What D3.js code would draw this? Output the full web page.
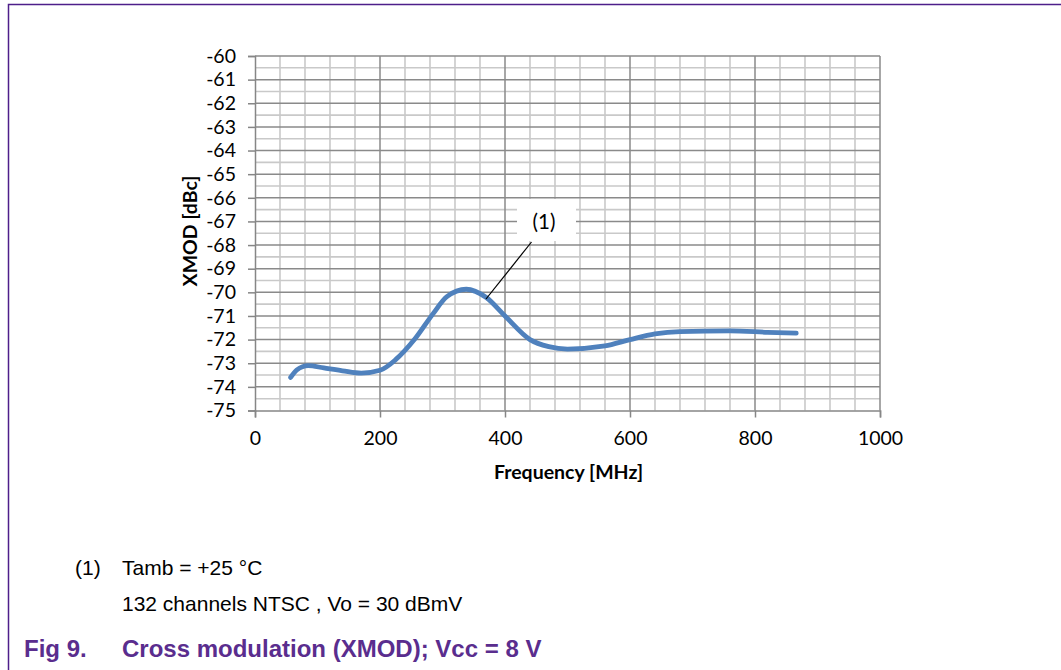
<!DOCTYPE html>
<html>
<head>
<meta charset="utf-8">
<script src="https://cdn.jsdelivr.net/npm/d3@7"></script>
<style>
  html, body { margin: 0; padding: 0; background: #fff; }
  svg { display: block; }
</style>
</head>
<body>
<svg id="chart" width="1061" height="670"></svg>
<script>
// XMOD measurement at Tamb = +25 °C
const frequency = [57, 67, 85, 110, 140, 170, 200, 225, 255, 285, 307, 338, 370, 400, 440, 470, 500, 560, 600, 640, 680, 760, 820, 866];
const xmod = [-73.6, -73.28, -73.1, -73.2, -73.32, -73.42, -73.3, -72.85, -72.0, -70.9, -70.18, -69.87, -70.22, -71.0, -72.0, -72.3, -72.4, -72.27, -72.0, -71.76, -71.66, -71.63, -71.69, -71.73];

const xTicks = [0, 200, 400, 600, 800, 1000];
const yTicks = d3.range(-75, -59, 1);

const xTitle = "Frequency [MHz]";
const yTitle = "XMOD [dBc]";
const calloutText = "(1)";
const noteLines = [["(1)", "Tamb = +25 °C"], ["", "132 channels NTSC , Vo = 30 dBmV"]];
const figNumber = "Fig 9.";
const figTitle = "Cross modulation (XMOD); Vcc = 8 V";

const svg = d3.select("#chart");
const chartFont = "Lato, 'Open Sans', sans-serif";
const noteFont = "'Liberation Sans', Arial, sans-serif";
const purple = "#5a2d8e";
const chartSize = "19.5px";

// page frame
svg.append("path")
  .attr("d", "M8.5,670 V4.5 H1061")
  .attr("fill", "none")
  .attr("stroke", "#4e1f8a")
  .attr("stroke-width", 1.5);

const x = d3.scaleLinear().domain([0, 1000]).range([255, 880]);
const y = d3.scaleLinear().domain([-75, -60]).range([410.5, 56]);

const grid = svg.append("g");
// minor grid
grid.selectAll("line.vminor")
  .data(d3.range(40, 1000, 40).filter(v => v % 200 !== 0))
  .join("line")
  .attr("x1", d => x(d)).attr("x2", d => x(d))
  .attr("y1", y(-60)).attr("y2", y(-75))
  .attr("stroke", "#c9c9c9").attr("stroke-width", 1.6);
grid.selectAll("line.hminor")
  .data(d3.range(-74.5, -60, 1))
  .join("line")
  .attr("x1", x(0)).attr("x2", x(1000))
  .attr("y1", d => y(d)).attr("y2", d => y(d))
  .attr("stroke", "#c9c9c9").attr("stroke-width", 1.6);
// major grid
grid.selectAll("line.vmajor")
  .data(xTicks.slice(1))
  .join("line")
  .attr("x1", d => x(d)).attr("x2", d => x(d))
  .attr("y1", y(-60)).attr("y2", y(-75))
  .attr("stroke", "#8a8a8a").attr("stroke-width", 1.5);
grid.selectAll("line.hmajor")
  .data(yTicks.slice(1))
  .join("line")
  .attr("x1", x(0)).attr("x2", x(1000))
  .attr("y1", d => y(d)).attr("y2", d => y(d))
  .attr("stroke", "#8a8a8a").attr("stroke-width", 1.5);

// axes
const yAxis = svg.append("g")
  .attr("transform", `translate(${x(0)},0)`)
  .call(d3.axisLeft(y).tickValues(yTicks).tickSize(7).tickPadding(12).tickFormat(d => d));
const xAxis = svg.append("g")
  .attr("transform", `translate(0,${y(-75)})`)
  .call(d3.axisBottom(x).tickValues(xTicks).tickSize(7).tickPadding(14).tickFormat(d => d));
[yAxis, xAxis].forEach(a => {
  a.select(".domain").attr("stroke", "#868686").attr("stroke-width", 1.5);
  a.selectAll(".tick line").attr("stroke", "#868686").attr("stroke-width", 1.5);
  a.selectAll(".tick text")
    .attr("fill", "#000")
    .style("font-family", chartFont)
    .style("font-size", chartSize);
});

// axis titles
svg.append("text")
  .attr("x", x(500) + 1).attr("y", 479)
  .attr("text-anchor", "middle")
  .style("font-family", chartFont).style("font-size", chartSize).style("font-weight", "bold")
  .text(xTitle);
svg.append("text")
  .attr("transform", `translate(197,231) rotate(-90)`)
  .attr("text-anchor", "middle")
  .style("font-family", chartFont).style("font-size", chartSize).style("font-weight", "bold")
  .text(yTitle);

// measured curve
const line = d3.line()
  .x((d, i) => x(frequency[i]))
  .y(d => y(d))
  .curve(d3.curveMonotoneX);
svg.append("path")
  .datum(xmod)
  .attr("d", line)
  .attr("fill", "none")
  .attr("stroke", "#4f81bd")
  .attr("stroke-width", 4.8)
  .attr("stroke-linecap", "round")
  .attr("stroke-linejoin", "round");

// callout
svg.append("line")
  .attr("x1", 531.5).attr("y1", 242)
  .attr("x2", 486).attr("y2", 299)
  .attr("stroke", "#000").attr("stroke-width", 1.2);
svg.append("rect")
  .attr("x", 517).attr("y", 199).attr("width", 59).attr("height", 42)
  .attr("fill", "#fff");
svg.append("text")
  .attr("x", 544).attr("y", 229)
  .attr("text-anchor", "middle")
  .style("font-family", chartFont).style("font-size", "20.5px")
  .text(calloutText);

// notes
const notes = svg.append("g").style("font-family", noteFont).style("font-size", "21px").attr("fill", "#000");
noteLines.forEach((pair, i) => {
  const yy = 575 + i * 36;
  if (pair[0]) notes.append("text").attr("x", 75).attr("y", yy).text(pair[0]);
  notes.append("text").attr("x", 122).attr("y", yy).text(pair[1]);
});

// figure caption
const cap = svg.append("g")
  .style("font-family", noteFont).style("font-size", "24px").style("font-weight", "bold")
  .attr("fill", purple);
cap.append("text").attr("x", 24).attr("y", 657).text(figNumber);
cap.append("text").attr("x", 122).attr("y", 657).text(figTitle);
</script>
</body>
</html>
